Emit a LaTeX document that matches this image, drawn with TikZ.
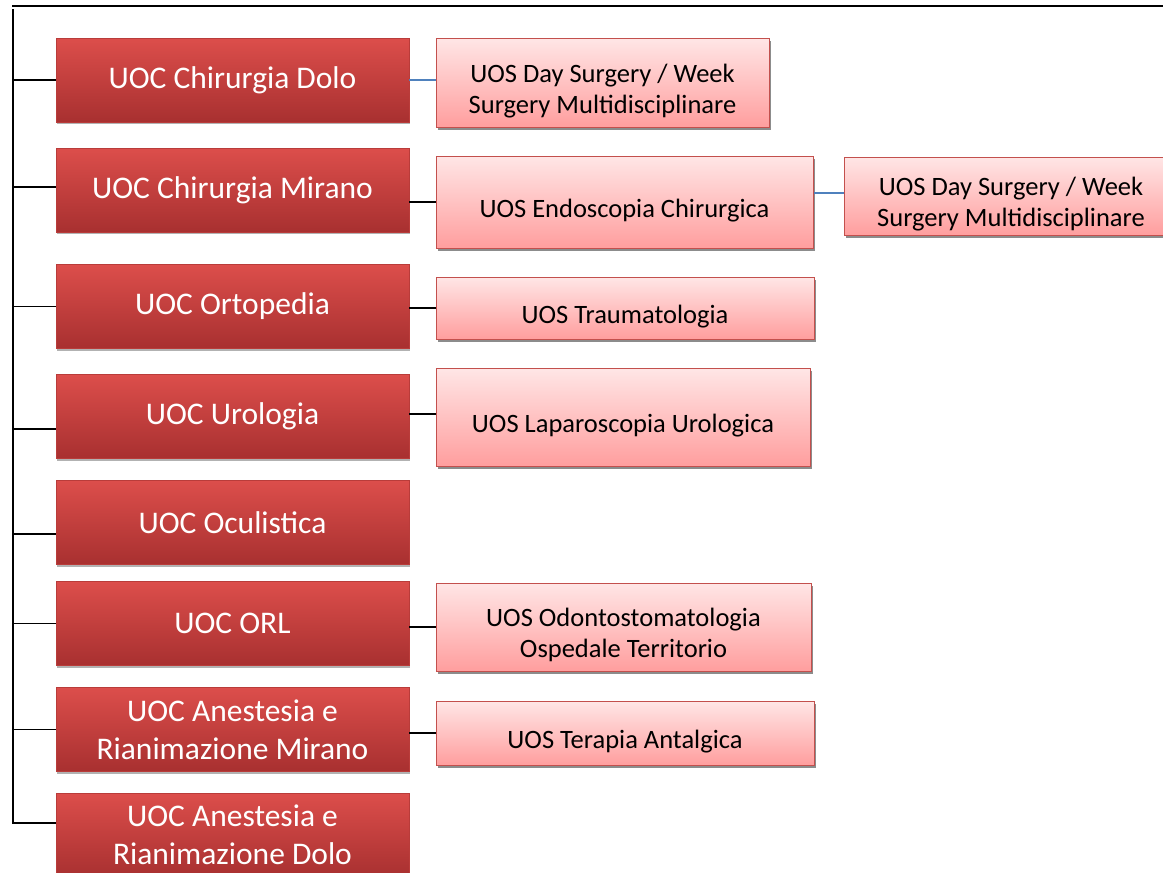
\documentclass[tikz,border=0pt]{standalone}
\usepackage{fontspec}
\setmainfont{Carlito}
\usetikzlibrary{shadows}
\definecolor{uocalto}{RGB}{220,78,75}
\definecolor{uocbasso}{RGB}{168,48,48}
\definecolor{uocbordo}{RGB}{185,60,58}
\definecolor{uosalto}{RGB}{255,230,230}
\definecolor{uosbasso}{RGB}{255,158,158}
\definecolor{uosbordo}{RGB}{195,80,77}
\definecolor{bluoffice}{RGB}{79,129,189}
\newcommand{\giu}{\rule{0pt}{35pt}}
\tikzset{
  uoc/.style     = {rectangle, draw=uocbordo, line width=0.8pt, top color=uocalto, bottom color=uocbasso,
                    minimum width=353pt, minimum height=84pt, text=white, align=center,
                    font=\fontsize{31.5}{38}\selectfont,
                    drop shadow={shadow xshift=1pt, shadow yshift=-2pt, fill=black, opacity=0.3}},
  uos/.style     = {rectangle, draw=uosbordo, line width=1pt, top color=uosalto, bottom color=uosbasso,
                    text=black, align=center, font=\fontsize{26.5}{31}\selectfont,
                    drop shadow={shadow xshift=2pt, shadow yshift=-3pt, fill=black!45, opacity=1}},
  link/.style    = {line width=1.2pt},
  linkblu/.style = {link, draw=bluoffice}
}

\begin{document}
\begin{tikzpicture}[x=1pt, y=-1pt]

  \useasboundingbox (0,0) rectangle (1163,873);

  % riga superiore e asse verticale
  \coordinate (rigaA) at (12,6);
  \coordinate (rigaB) at (1163,6);
  \coordinate (assetop) at (13,9);
  \coordinate (assebot) at (13,824);
  \draw[line width=2pt] (rigaA) -- (rigaB);
  \draw[line width=1.5pt] (assetop) -- (assebot);

  % UOC (colonna sinistra)
  \node[uoc] (chirdolo)  at (232.5,80)  {UOC Chirurgia Dolo};
  \node[uoc] (chirmir)   at (232.5,190) {UOC Chirurgia Mirano};
  \node[uoc] (ortop)     at (232.5,306.5) {UOC Ortopedia};
  \node[uoc] (urol)      at (232.5,416.5) {UOC Urologia};
  \node[uoc] (ocul)      at (232.5,522.5) {UOC Oculistica};
  \node[uoc] (orl)       at (232.5,623.5) {UOC ORL};
  \node[uoc] (anestmir)  at (232.5,729.5) {UOC Anestesia e\\Rianimazione Mirano};
  \node[uoc] (anestdolo) at (232.5,835)   {UOC Anestesia e\\Rianimazione Dolo};

  % UOS
  \node[uos, minimum width=333pt, minimum height=89pt] (daysurg)  at (602.5,82.5) {\giu UOS Day Surgery / Week\\Surgery Multidisciplinare};
  \node[uos, minimum width=377pt, minimum height=92pt] (endosc)   at (624.5,202)  {\giu UOS Endoscopia Chirurgica};
  \node[uos, minimum width=378pt, minimum height=62pt] (trauma)   at (625,308)    {\giu UOS Traumatologia};
  \node[uos, minimum width=374pt, minimum height=98pt] (laparo)   at (623,417)    {\giu UOS Laparoscopia Urologica};
  \node[uos, minimum width=375pt, minimum height=88pt] (odonto)   at (623.5,627)  {\giu UOS Odontostomatologia\\Ospedale Territorio};
  \node[uos, minimum width=378pt, minimum height=64pt] (antalg)   at (625,733)    {\giu UOS Terapia Antalgica};
  \node[uos, minimum width=334pt, minimum height=78pt] (daysurgb) at (1011,196)   {\giu UOS Day Surgery / Week\\Surgery Multidisciplinare};

  % collegamenti dall'asse
  \draw[link] (chirdolo.west -| assetop) -- (chirdolo.west);
  \draw[link] ([yshift=3pt]chirmir.west -| assetop) -- ([yshift=3pt]chirmir.west);
  \draw[link] (ortop.west -| assetop) -- (ortop.west);
  \draw[link] ([yshift=-12.5pt]urol.west -| assetop) -- ([yshift=-12.5pt]urol.west);
  \draw[link] ([yshift=-11.5pt]ocul.west -| assetop) -- ([yshift=-11.5pt]ocul.west);
  \draw[link] (orl.west -| assetop) -- (orl.west);
  \draw[link] (anestmir.west -| assetop) -- (anestmir.west);
  \draw[link] ([yshift=12pt]anestdolo.west -| assetop) -- ([yshift=12pt]anestdolo.west);

  % collegamenti UOC - UOS
  \draw[linkblu] (chirdolo.east) -- (chirdolo.east -| daysurg.west);
  \draw[link] (endosc.west -| chirmir.east) -- (endosc.west);
  \draw[link] (trauma.west -| ortop.east) -- (trauma.west);
  \draw[link] ([yshift=3pt]laparo.west -| urol.east) -- ([yshift=3pt]laparo.west);
  \draw[link] (odonto.west -| orl.east) -- (odonto.west);
  \draw[link] (antalg.west -| anestmir.east) -- (antalg.west);
  \draw[linkblu] ([yshift=3pt]daysurgb.west -| endosc.east) -- ([yshift=3pt]daysurgb.west);

\end{tikzpicture}
\end{document}
